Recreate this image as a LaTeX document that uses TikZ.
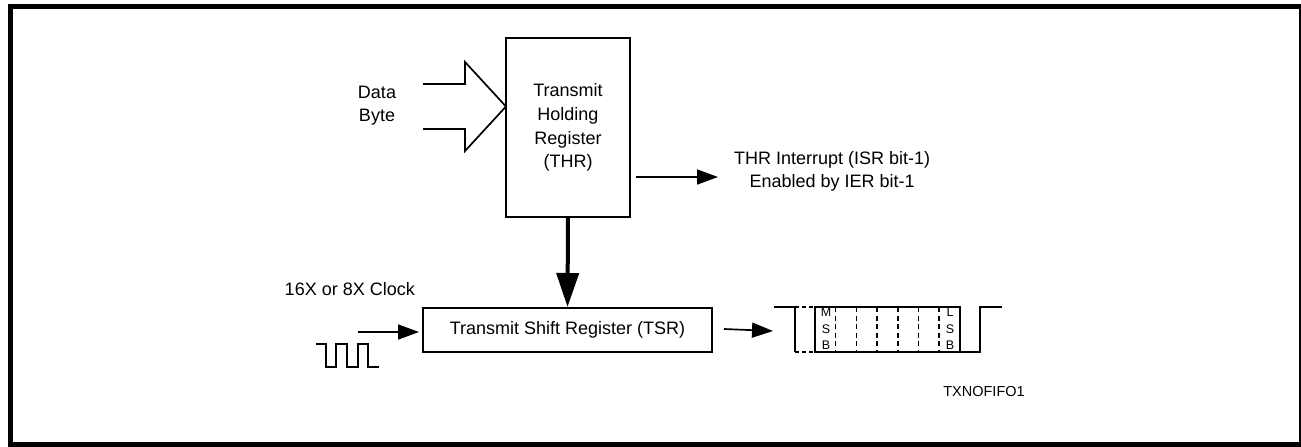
\documentclass[tikz,border=0pt]{standalone}
\usepackage{fontspec}
\setmainfont{Liberation Sans}
\usetikzlibrary{arrows.meta}

\tikzset{
  regbox/.style={draw, line width=2, inner sep=0, align=center,
    font=\fontsize{18}{23.7}\selectfont},
  lbl/.style={inner sep=0, align=center, font=\fontsize{18}{23}\selectfont},
  arr/.style={line width=1.7, -{Triangle[length=21,width=15]}},
  bitlbl/.style={inner sep=0, align=center, font=\fontsize{12.5}{16.5}\selectfont},
}

\begin{document}
\begin{tikzpicture}[x=1pt,y=-1pt]
            \useasboundingbox (0,0) rectangle (1301,447);
            \draw[line width=5] (10,6.8) rectangle (1301.5,444.7);

            \node[regbox, minimum width=124, minimum height=179] (thr) at (568,127.5) {Transmit\\Holding\\Register\\(THR)};
            \node[regbox, minimum width=289, minimum height=44] (tsr) at (567.5,330) {Transmit Shift Register (TSR)};

            \node[lbl] (data) at (377,106) {Data\\Byte};
            \node[lbl, anchor=west] (irq) at (734,171.5) {THR Interrupt (ISR bit-1)\\Enabled by IER bit-1};
            \node[lbl, anchor=east] (clk) at (415,289) {16X or 8X Clock};
            \node[inner sep=0, font=\fontsize{14.5}{16}\selectfont] (fig) at (984,392) {TXNOFIFO1};

            \coordinate (dtip) at (506,106.5);
            \coordinate (irqin) at (636,177);
            \coordinate (irqtip) at (718,177);
            \coordinate (clkin) at (358,332);
            \coordinate (sertip) at (773,331);

            % hollow data arrow
            \draw[line width=1.7, line join=miter]
              (423,84) -- (465,84) -- (465,62) -- (dtip) -- (465,151) -- (465,129) -- (423,129);

            \draw[arr] (irqin) -- (irqtip);
            \draw[line width=4, -{Triangle[length=34,width=22]}] (thr.south) -- (tsr.north);
            \draw[arr] (clkin) -- ([xshift=-3]tsr.west |- clkin);
            \draw[arr] ([xshift=11,yshift=1]tsr.east) -- (sertip);

            % clock
            \draw[line width=2]
              (316,344) -- (326,344) -- (326,367) -- (336,367) -- (336,344) -- (347,344)
              -- (347,367) -- (358,367) -- (358,344) -- (368,344) -- (368,367) -- (379,367);

            % serial frame
            \draw[line width=2] (774,307) -- (795,307) -- (795,352);
            \draw[line width=2, dash pattern=on 4 off 3] (795,307) -- (815,307) (795,352) -- (815,352);
            \draw[line width=2] (815,307) rectangle (960,352);
            \draw[line width=2] (960,352) -- (980,352) -- (980,307) -- (1002,307);
            \foreach \bx in {835.7,856.4,877.1,897.8,918.5,939.2}
              \draw[line width=1.5, dash pattern=on 5 off 3.5] (\bx,307) -- (\bx,352);

            \node[bitlbl] (msb) at (826,329) {M\\S\\B};
            \node[bitlbl] (lsb) at (950,329) {L\\S\\B};
\end{tikzpicture}
\end{document}
